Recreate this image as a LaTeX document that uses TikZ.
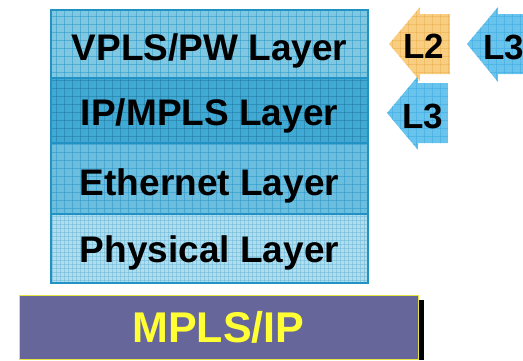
\documentclass[tikz,border=0pt]{standalone}
\usepackage{fontspec}
\setmainfont{Liberation Sans}
\definecolor{edgeblue}{RGB}{34,146,196}
\definecolor{vplsfill}{RGB}{128,200,226}
\definecolor{ipfill}{RGB}{64,170,212}
\definecolor{ethfill}{RGB}{108,190,222}
\definecolor{physfill}{RGB}{176,222,238}
\definecolor{gridblue}{RGB}{40,150,200}
\definecolor{orangefill}{RGB}{250,206,128}
\definecolor{gridorange}{RGB}{232,176,80}
\definecolor{arrowblue}{RGB}{104,196,236}
\definecolor{gridarrow}{RGB}{60,170,225}
\definecolor{basefill}{RGB}{102,102,154}
\definecolor{basetext}{RGB}{255,255,51}
\tikzset{
  layertext/.style={font=\bfseries\fontsize{37}{37}\selectfont, text=black, inner sep=0pt, anchor=base},
  tagtext/.style={font=\bfseries\fontsize{35}{35}\selectfont, text=black, inner sep=0pt, anchor=base},
  basetextstyle/.style={font=\bfseries\fontsize{43}{43}\selectfont, text=basetext, inner sep=0pt, anchor=base},
}
% textured fill: base colour plus a fine grid, clipped to the region
\newcommand\texturedregion[4]{% path, fill, grid colour, step
  \begin{scope}
    \clip #1;
    \fill[#2] #1;
    \foreach \gx in {0,#4,...,530} \draw[#3, line width=0.6pt, opacity=0.5] (\gx,0) -- (\gx,360);
    \foreach \gy in {0,#4,...,360} \draw[#3, line width=0.6pt, opacity=0.5] (0,\gy) -- (530,\gy);
  \end{scope}}
\begin{document}
\begin{tikzpicture}[x=1pt,y=-1pt]
\useasboundingbox (0,0) rectangle (523,360);

% protocol stack
\texturedregion{(51,10) rectangle (368,78)}{vplsfill}{gridblue}{8}
\texturedregion{(51,78) rectangle (368,143)}{ipfill}{gridblue!80!black}{8}
\texturedregion{(51,143) rectangle (368,214)}{ethfill}{gridblue}{8}
\texturedregion{(51,214) rectangle (368,283)}{physfill}{gridblue!70}{4}
\draw[edgeblue, line width=1.2pt] (51,10) rectangle (368,283);
\draw[edgeblue, line width=1.2pt] (51,78) -- (368,78) (51,143) -- (368,143) (51,214) -- (368,214);

\node[layertext] (vpls) at (209.5,60) {VPLS/PW Layer};
\node[layertext] (ipmpls) at (209.5,125) {IP/MPLS Layer};
\node[layertext] (eth) at (209.5,195) {Ethernet Layer};
\node[layertext] (phys) at (209.5,262) {Physical Layer};

% tags pointing at the stack
\texturedregion{(450,14) -- (420,14) -- (420,7) -- (389,44) -- (420,81) -- (420,74) -- (450,74) -- cycle}{orangefill}{gridorange}{8}
\texturedregion{(530,14) -- (498,14) -- (498,7) -- (467,44) -- (498,82) -- (498,74) -- (530,74) -- cycle}{arrowblue}{gridarrow}{8}
\texturedregion{(448,83) -- (418,83) -- (418,76) -- (387,113) -- (418,150) -- (418,143) -- (448,143) -- cycle}{arrowblue}{gridarrow}{8}

\node[tagtext] (ltwo) at (424,58) {L2};
\node[tagtext] (lthreeright) at (504,59) {L3};
\node[tagtext] (lthree) at (423,128) {L3};

% MPLS/IP base with drop shadow
\fill[black] (418,300) rectangle (424,360);
\node[draw=basetext!80!gray, line width=0.8pt, fill=basefill, minimum width=399pt, minimum height=64pt, inner sep=0pt] (base) at (218.5,327) {};
\node[basetextstyle] (basetxt) at (218.5,342) {MPLS/IP};
\end{tikzpicture}
\end{document}
